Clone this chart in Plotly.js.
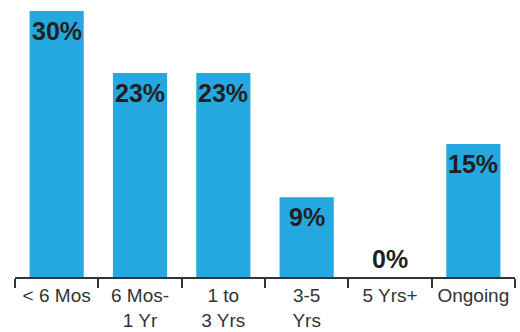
<!DOCTYPE html>
<html><head><meta charset="utf-8">
<script src="https://cdn.plot.ly/plotly-3.0.1.min.js"></script>
<style>html,body{margin:0;padding:0;background:#fff}#chart{width:520px;height:332px}</style>
</head><body><div id="chart"></div>
<script>
const categories = ["< 6 Mos", "6 Mos-<br>1 Yr", "1 to<br>3 Yrs", "3-5<br>Yrs", "5 Yrs+", "Ongoing"];
const values = [30, 23, 23, 9, 0, 15];
const valueLabels = ["30%", "23%", "23%", "9%", "0%", "15%"];

const annotations = categories.map((c, i) => ({
  x: c, y: values[i], xref: 'x', yref: 'y',
  text: valueLabels[i], showarrow: false,
  yanchor: values[i] > 0 ? 'top' : 'bottom',
  yshift: values[i] > 0 ? -4 : 2,
  font: {family: 'Liberation Sans, Arial, sans-serif', size: 25, color: '#231f20', weight: 'bold'}
}));

Plotly.newPlot('chart', [{
  type: 'bar', x: categories, y: values,
  marker: {color: '#25a8e0'}, width: 0.65, hoverinfo: 'none'
}], {
  width: 520, height: 332,
  margin: {l: 15, r: 5, t: 0, b: 55},
  paper_bgcolor: '#fff', plot_bgcolor: '#fff',
  showlegend: false,
  xaxis: {
    type: 'category', tickson: 'boundaries', ticks: 'outside', ticklen: 9, tickwidth: 2, tickcolor: '#333',
    showline: true, linecolor: '#333', linewidth: 2, showgrid: false, zeroline: false, tickangle: 0,
    tickfont: {family: 'Liberation Sans, Arial, sans-serif', size: 19, color: '#333'},
    range: [-0.5, 5.5], fixedrange: true
  },
  yaxis: {visible: false, range: [0, 31.24], showgrid: false, zeroline: false, fixedrange: true},
  annotations: annotations
}, {displayModeBar: false, staticPlot: true});
</script></body></html>
